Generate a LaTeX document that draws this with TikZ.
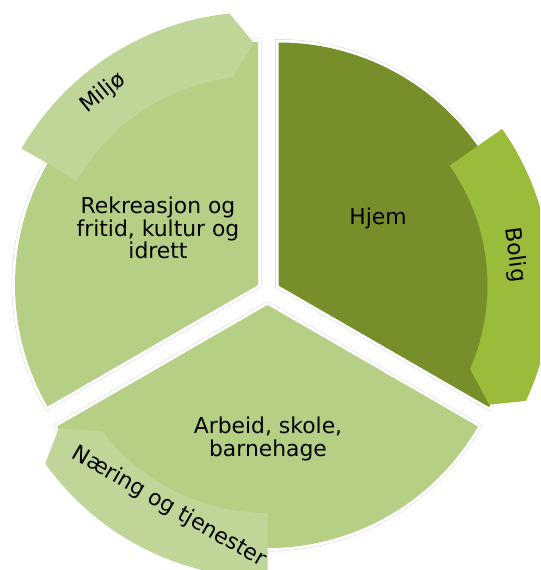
\documentclass[tikz,border=0pt]{standalone}
\usepackage{fontspec}
\setmainfont{DejaVu Sans}
\definecolor{leafgrn}{HTML}{B5CF84}
\definecolor{palegrn}{HTML}{C0D598}
\definecolor{olivegrn}{HTML}{778F2B}
\definecolor{limegrn}{HTML}{9BBB3A}

\begin{document}
\begin{tikzpicture}[x=0.75pt, y=0.75pt,
  sector/.style={fill=#1,
                 preaction={draw=gray!35, line width=5pt},
                 preaction={draw=white, line width=4.4pt}},
  band/.style={fill=#1},
  txt/.style={font=\fontsize{16.4}{17}\selectfont, align=center, text=black, inner sep=0pt},
]
\useasboundingbox (0,0) rectangle (540,-570);
\clip (0,0) rectangle (540,-570);

% Hjem + Bolig
\begin{scope}[shift={(278.5,-285.5)}]
  \path[sector=olivegrn] (0,0) -- (-30:243) arc[start angle=-30, end angle=90, radius=243] -- cycle;
  \path[band=limegrn] (35:209) -- (35:273) arc[start angle=35, end angle=-25, radius=273]
        -- (-29.5:242) -- (-23.5:209) arc[start angle=-23.5, end angle=35, radius=209] -- cycle;
\end{scope}

% Rekreasjon + Miljø
\begin{scope}[shift={(258,-285)}]
  \path[sector=leafgrn] (0,0) -- (90:243) arc[start angle=90, end angle=210, radius=243] -- cycle;
  \path[band=palegrn] (150:209) -- (150:273) arc[start angle=150, end angle=96, radius=273]
        -- (91:242) -- (97:209) arc[start angle=97, end angle=150, radius=209] -- cycle;
\end{scope}

% Arbeid + Næring
\begin{scope}[shift={(267.5,-305)}]
  \path[sector=leafgrn] (0,0) -- (210:243) arc[start angle=210, end angle=330, radius=243] -- cycle;
  \path[band=palegrn] (270:208) -- (270:273) arc[start angle=270, end angle=215.5, radius=273]
        -- (210.5:242) -- (217.5:208) arc[start angle=217.5, end angle=270, radius=208] -- cycle;
\end{scope}

\node[txt] (hjem)   at (378,-218) {Hjem};
\node[txt] (rekr)   at (158,-228) {Rekreasjon og\\fritid, kultur og\\idrett};
\node[txt] (arbeid) at (268,-439) {Arbeid, skole,\\barnehage};
\node[txt, rotate=39]    (miljo)   at (103,-93)  {Miljø};
\node[txt, rotate=-82.5] (bolig)   at (515,-255) {Bolig};
\node[txt, rotate=-30]   (naering) at (169,-507) {Næring og tjenester};
\end{tikzpicture}
\end{document}
